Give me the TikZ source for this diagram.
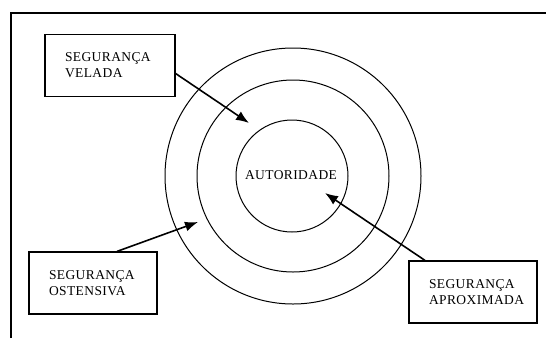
\documentclass[tikz,border=0pt]{standalone}
\usepackage{fontspec}
\setmainfont{Liberation Serif}[LetterSpace=3]
\usetikzlibrary{arrows.meta}
\begin{document}
\begin{tikzpicture}[x=1pt,y=-1pt,
  lbl/.style={font=\fontsize{13.5}{16}\selectfont},
  boxnode/.style={lbl,draw,line width=1.2pt,align=left,inner xsep=20pt,inner ysep=0pt,
    minimum height=62pt,text width=#1},
  ring/.style={draw,line width=1pt},
  pointer/.style={line width=1.6pt,-{Latex[length=13pt,width=10pt]}}]
\useasboundingbox (0,0) rectangle (546,338);
\draw[line width=2pt] (11,338) -- (11,13) coordinate (fc) -- (546,13);
\node[ring,circle,minimum size=256pt,inner sep=0pt] (outer) at (293,176) {};
\node[ring,circle,minimum size=192pt,inner sep=0pt] (middle) at (293,176) {};
\node[ring,circle,minimum size=112pt,inner sep=0pt] (inner) at (292,176) {};
\node[lbl] (aut) at (291,175) {AUTORIDADE};
\node[boxnode=90pt] (vel) at (110,65.5) {SEGURANÇA\\VELADA};
\node[boxnode=88pt] (ost) at (93,283) {SEGURANÇA\\OSTENSIVA};
\node[boxnode=88pt] (apr) at (473,292) {SEGURANÇA\\APROXIMADA};
\coordinate (t1) at (249,123);
\coordinate (t2) at (198,222);
\coordinate (t3) at (325,193);
\draw[pointer] ([yshift=-8pt]vel.east) -- (t1);
\draw[pointer] ([xshift=24pt]ost.north) -- (t2);
\draw[pointer] ([xshift=-48pt]apr.north) -- (t3);
\end{tikzpicture}
\end{document}
